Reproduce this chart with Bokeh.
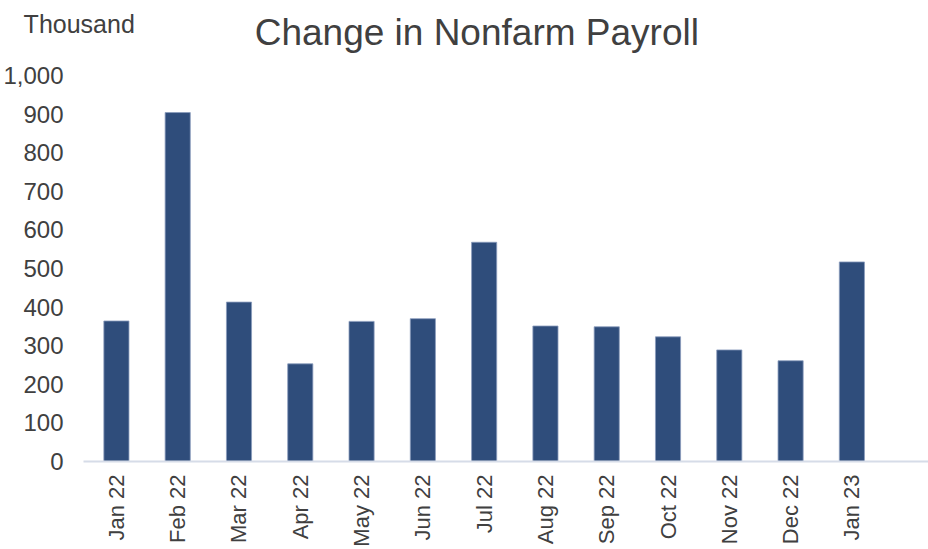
import math
from bokeh.plotting import figure
from bokeh.models import FixedTicker, NumeralTickFormatter, Label, Range1d
from bokeh.embed import file_html
from bokeh.resources import INLINE

months = ["Jan 22", "Feb 22", "Mar 22", "Apr 22", "May 22", "Jun 22", "Jul 22",
          "Aug 22", "Sep 22", "Oct 22", "Nov 22", "Dec 22", "Jan 23"]
payroll = [364, 904, 413, 253, 363, 370, 568, 351, 349, 323, 289, 261, 517]
y_ticks = [0, 100, 200, 300, 400, 500, 600, 700, 800, 900, 1000]

idx = list(range(len(months)))
FONT = "Liberation Sans"
TXT = "#404040"

p = figure(width=928, height=549, output_backend="svg", toolbar_location=None,
           x_range=Range1d(-0.537, 13.25), y_range=Range1d(0, 1000),
           min_border_top=75, min_border_left=0, min_border_right=0, min_border_bottom=0)
p.outline_line_color = None
p.xgrid.visible = False
p.ygrid.visible = False

p.vbar(x=idx, top=payroll, width=0.41, fill_color="#2F4D7B",
       line_color="#8A9CBC", line_width=0.8)

# x axis
xa = p.xaxis[0]
xa.ticker = FixedTicker(ticks=idx)
xa.major_label_overrides = {i: m for i, m in zip(idx, months)}
xa.major_label_orientation = math.pi / 2
xa.major_tick_line_color = None
xa.minor_tick_line_color = None
xa.major_tick_out = 0
xa.major_tick_in = 0
xa.major_label_standoff = 13
xa.axis_line_color = "#D6DCE8"
xa.axis_line_width = 2
xa.major_label_text_font = FONT
xa.major_label_text_font_size = "22px"
xa.major_label_text_color = TXT

# y axis
ya = p.yaxis[0]
ya.ticker = FixedTicker(ticks=y_ticks)
ya.formatter = NumeralTickFormatter(format="0,0")
ya.axis_line_color = None
ya.major_tick_line_color = None
ya.minor_tick_line_color = None
ya.major_tick_out = 0
ya.major_tick_in = 0
ya.major_label_standoff = 20
ya.major_label_text_font = FONT
ya.major_label_text_font_size = "24px"
ya.major_label_text_color = TXT

# texts above the frame live in the side panel, so they are not clipped
p.add_layout(Label(x=5.88, y=1111, text="Change in Nonfarm Payroll",
                   text_font=FONT, text_font_size="37px", text_color=TXT,
                   text_align="center", text_baseline="alphabetic"), "above")
p.add_layout(Label(x=-1.514, y=1134, text="Thousand",
                   text_font=FONT, text_font_size="25px", text_color=TXT,
                   text_align="left", text_baseline="alphabetic"), "above")

open("out.html", "w").write(file_html(p, INLINE))
